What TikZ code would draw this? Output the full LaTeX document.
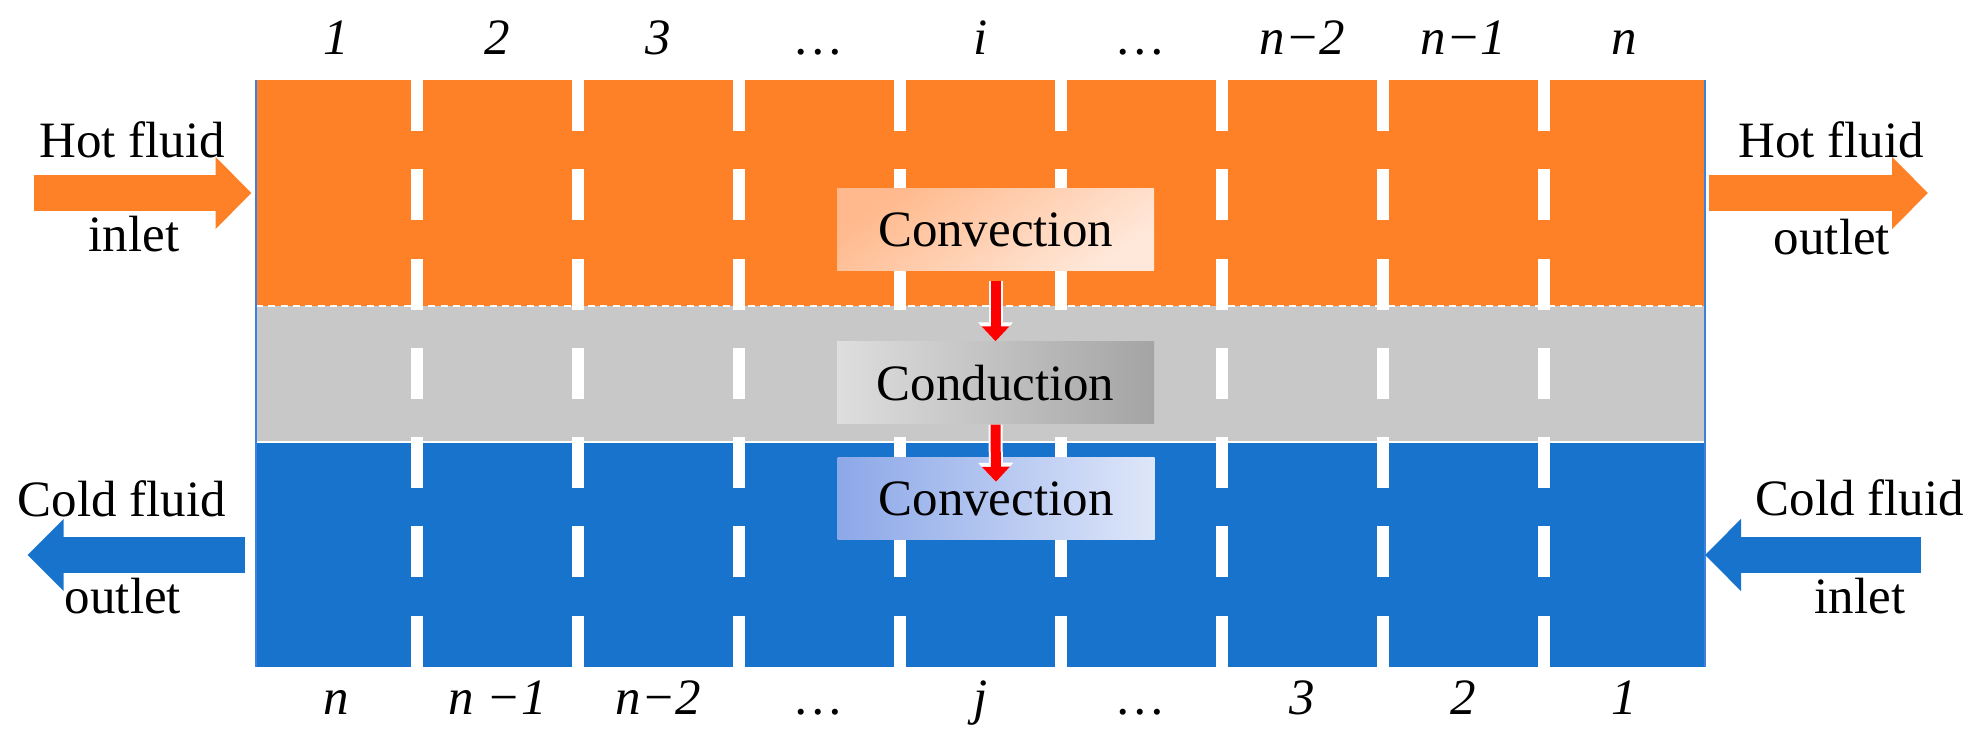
\documentclass[tikz,border=0pt]{standalone}
\usepackage{fontspec}
\setmainfont{Liberation Serif}
\usetikzlibrary{arrows.meta,positioning}
\definecolor{hotfluid}{RGB}{254,128,39}
\definecolor{coldfluid}{RGB}{24,115,204}
\definecolor{wallgray}{RGB}{200,200,200}
\definecolor{edgeblue}{RGB}{60,130,220}
\definecolor{hotA}{RGB}{255,185,140}
\definecolor{hotB}{RGB}{255,232,218}
\definecolor{wallA}{RGB}{222,222,222}
\definecolor{wallB}{RGB}{164,164,164}
\definecolor{coldA}{RGB}{140,168,232}
\definecolor{coldB}{RGB}{222,230,249}
\tikzset{
  heatbox/.style={minimum width=3.17cm, minimum height=0.82cm, inner sep=0pt},
  idx/.style={anchor=base, font=\fontsize{14.5}{16}\selectfont\itshape},
  side/.style={anchor=base},
  heatflow/.style={red, line width=0.1cm, -{Triangle[length=0.15cm,width=0.27cm]},
    preaction={draw=white, line width=0.14cm, -{Triangle[length=0.19cm,width=0.34cm]}}},
  fluidflow/.style={line width=0.36cm, -{Triangle[length=0.36cm,width=0.70cm]}}
}
\begin{document}
\begin{tikzpicture}[font=\fontsize{14.5}{16}\selectfont]
\useasboundingbox (0,0) rectangle (19.8,7.36);

% hot fluid, wall and cold fluid layers
\fill[hotfluid] (2.56,4.30) rectangle (17.05,6.56);
\fill[wallgray] (2.56,2.94) rectangle (17.05,4.30);
\fill[coldfluid] (2.56,0.69) rectangle (17.05,2.94);
\draw[white, line width=0.6pt, dash pattern=on 2pt off 1.5pt] (2.56,4.30) -- (17.05,4.30);
\draw[white, line width=0.7pt] (2.56,2.94) -- (17.05,2.94);
\draw[edgeblue, line width=0.5pt] (2.56,0.69) -- (2.56,6.56);
\draw[edgeblue, line width=0.5pt] (17.05,0.69) -- (17.05,6.56);

% cell borders
\foreach \k in {1,...,8} {
  \draw[white, line width=0.127cm, dash pattern=on 0.51cm off 0.383cm]
    (2.56+1.61*\k,6.56) -- (2.56+1.61*\k,0.69);
}

% cell numbers, hot side (top) and cold side (bottom)
\foreach \k/\t in {1/1,2/2,3/3,4/…,5/i,6/…,7/n−2,8/n−1,9/n} {
  \node[idx] (hot\k) at (1.755+1.61*\k,6.81) {\t};
}
\foreach \k/\t in {1/n,2/n −1,3/n−2,4/…,5/j,6/…,7/3,8/2,9/1} {
  \node[idx] (cold\k) at (1.755+1.61*\k,0.22) {\t};
}

% heat transfer path
\node[heatbox, top color=hotA, bottom color=hotB, shading angle=35] (conv1) at (9.955,5.06) {Convection};
\node[heatbox, left color=wallA, right color=wallB] (cond) at (9.955,3.53) {Conduction};
\node[heatbox, left color=coldA, right color=coldB] (conv2) at (9.96,2.375) {Convection};
\draw[heatflow] ([yshift=-0.09cm]conv1.south) -- (cond.north);
\draw[heatflow] (cond.south) -- ([yshift=-0.25cm]conv2.north);

% fluid in and out
\coordinate (hotin) at (0.34,5.43);
\coordinate (hotinend) at (2.515,5.43);
\coordinate (hotout) at (17.09,5.43);
\coordinate (hotoutend) at (19.28,5.43);
\coordinate (coldout) at (2.45,1.81);
\coordinate (coldoutend) at (0.276,1.81);
\coordinate (coldin) at (19.21,1.81);
\coordinate (coldinend) at (17.05,1.81);
\draw[fluidflow, hotfluid] (hotin) -- (hotinend);
\draw[fluidflow, hotfluid] (hotout) -- (hotoutend);
\draw[fluidflow, coldfluid] (coldout) -- (coldoutend);
\draw[fluidflow, coldfluid] (coldin) -- (coldinend);

\node[side] (hotinA) at (1.32,5.78) {Hot fluid};
\node[side] (hotinB) at (1.34,4.84) {inlet};
\node[side] (hotoutA) at (18.31,5.78) {Hot fluid};
\node[side] (hotoutB) at (18.32,4.81) {outlet};
\node[side] (coldoutA) at (1.22,2.19) {Cold fluid};
\node[side] (coldoutB) at (1.23,1.23) {outlet};
\node[side] (coldinA) at (18.60,2.20) {Cold fluid};
\node[side] (coldinB) at (18.60,1.23) {inlet};

\end{tikzpicture}
\end{document}
